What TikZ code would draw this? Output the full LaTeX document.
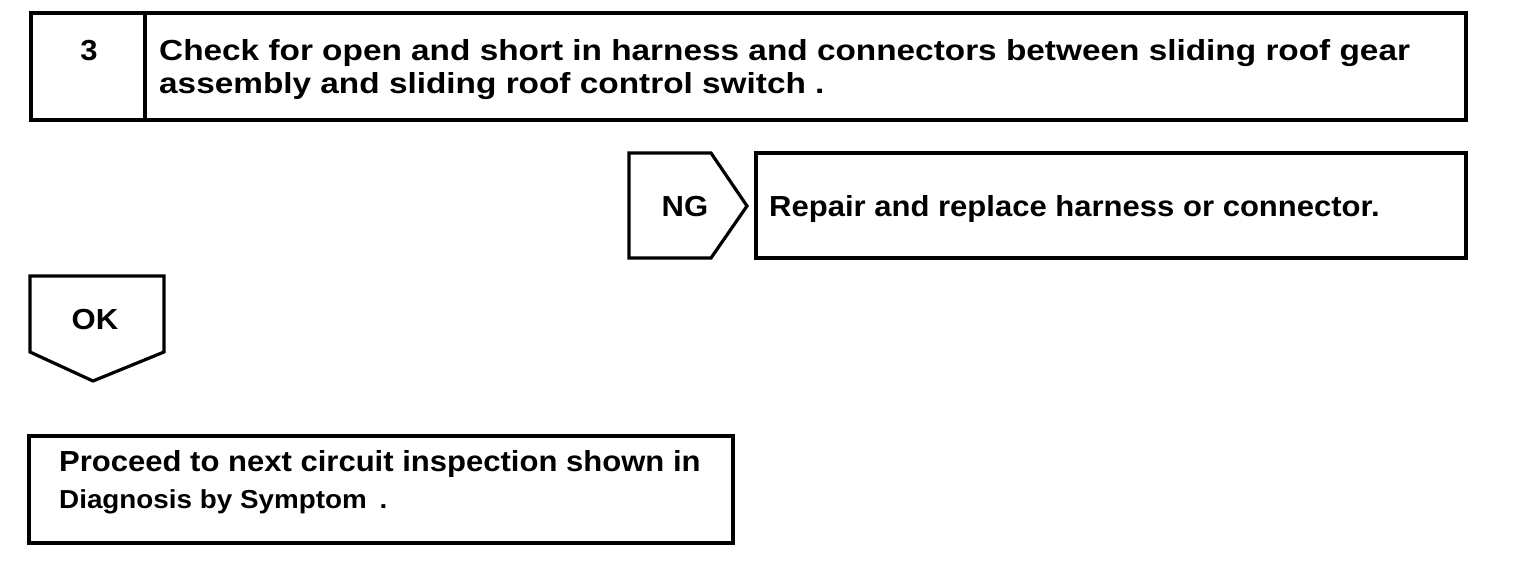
\documentclass[tikz,border=0pt]{standalone}
\usepackage{fontspec}
\setmainfont{Liberation Sans}
\newfontfamily\widefont[FakeStretch=1.15]{Liberation Sans Bold}
\newfontfamily\midfont[FakeStretch=1.07]{Liberation Sans Bold}
\begin{document}
\begin{tikzpicture}[x=1pt,y=-1pt,
  frame/.style={draw=black, line width=3.2pt, line join=miter},
  txtw/.style={font=\widefont\fontsize{29}{33}\selectfont, inner sep=0pt, anchor=base west},
  txt/.style={font=\midfont\fontsize{29}{33}\selectfont, inner sep=0pt, anchor=base west},
  txtc/.style={font=\midfont\fontsize{29}{33}\selectfont, inner sep=0pt, anchor=base},
  txts/.style={font=\midfont\fontsize{26}{30}\selectfont, inner sep=0pt, anchor=base west}]
\useasboundingbox (0,0) rectangle (1520,562);
% top box
\draw[frame] (31,13) rectangle (1466,120);
\draw[frame] (145,13) -- (145,120);
\node[txtc] (num) at (89,60) {3};
\node[txtw] (chk1) at (159,60) {Check for open and short in harness and connectors between sliding roof gear};
\node[txtw] (chk2) at (159,93) {assembly and sliding roof control switch .};
% NG
\draw[frame] (629,153) -- (711,153) -- (747,206) -- (711,258) -- (629,258) -- cycle;
\node[txtc] (ng) at (685,216) {NG};
\draw[frame] (756,153) rectangle (1466,258);
\node[txt] (rep) at (769,216) {Repair and replace harness or connector.};
% OK
\draw[frame] (30,276) -- (164,276) -- (164,352) -- (93,381) -- (30,352) -- cycle;
\node[txtc] (ok) at (95,329) {OK};
% bottom box
\draw[frame] (29,436) rectangle (733,543);
\node[txt] (pro1) at (59,471) {Proceed to next circuit inspection shown in};
\node[txts] (pro2) at (59,508) {Diagnosis by Symptom \hspace{5pt}.};
\end{tikzpicture}
\end{document}
